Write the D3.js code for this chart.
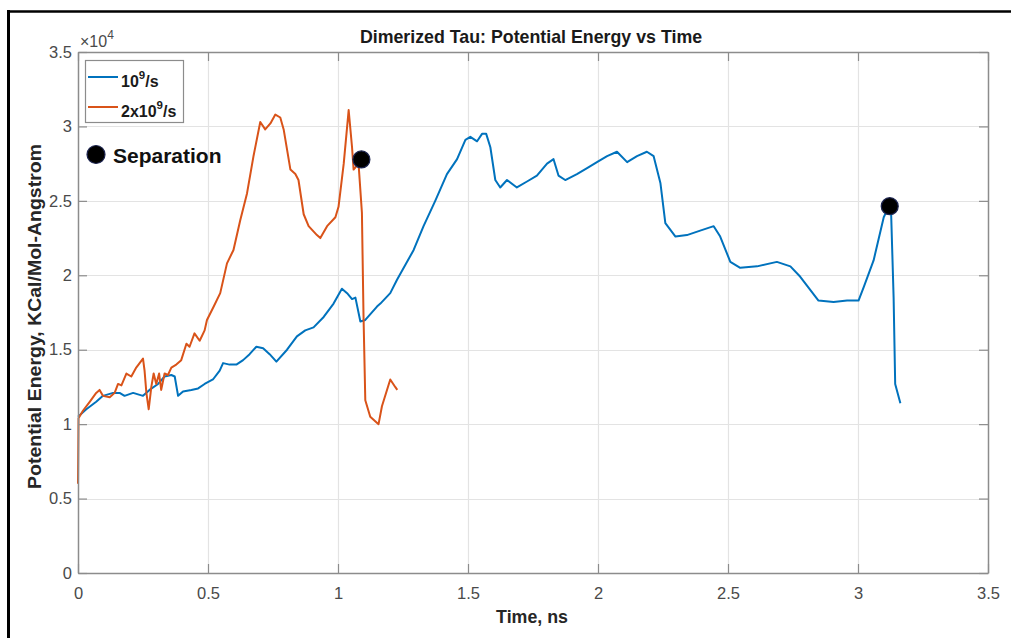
<!DOCTYPE html>
<html>
<head>
<meta charset="utf-8">
<script src="https://cdn.jsdelivr.net/npm/d3@7"></script>
<style>
  html, body { margin: 0; padding: 0; background: #fff; }
  svg { display: block; }
  text { font-family: "Liberation Sans", Arial, Helvetica, sans-serif; }
</style>
</head>
<body>
<svg id="chart" width="1011" height="638"></svg>
<script>
// ---- Data (energy in units of 1e4 KCal/Mol-Angstrom, time in ns) ----
const blueTime = [0,0.032,0.070,0.096,0.135,0.16,0.179,0.212,0.25,0.275,0.308,0.333,0.359,0.372,0.385,0.404,0.436,0.462,0.487,0.519,0.545,0.558,0.583,0.609,0.635,0.66,0.686,0.712,0.737,0.763,0.804,0.842,0.874,0.906,0.945,0.983,1.015,1.035,1.054,1.067,1.086,1.105,1.15,1.163,1.201,1.227,1.291,1.329,1.374,1.419,1.458,1.49,1.509,1.535,1.554,1.57,1.586,1.605,1.624,1.65,1.688,1.727,1.765,1.804,1.829,1.848,1.874,1.919,1.958,1.996,2.035,2.073,2.112,2.15,2.188,2.214,2.24,2.259,2.298,2.342,2.393,2.445,2.47,2.509,2.547,2.612,2.688,2.74,2.778,2.817,2.848,2.906,2.958,3.002,3.022,3.06,3.099,3.118,3.127,3.137,3.143,3.163];
const blueEnergy = [1.05,1.10,1.15,1.19,1.21,1.21,1.19,1.21,1.19,1.23,1.27,1.32,1.33,1.32,1.19,1.22,1.23,1.24,1.27,1.30,1.36,1.41,1.40,1.40,1.43,1.47,1.52,1.51,1.47,1.42,1.50,1.59,1.63,1.65,1.72,1.81,1.91,1.88,1.84,1.85,1.69,1.70,1.79,1.81,1.88,1.97,2.17,2.33,2.50,2.68,2.78,2.91,2.93,2.90,2.95,2.95,2.86,2.64,2.59,2.64,2.59,2.63,2.67,2.75,2.78,2.67,2.64,2.68,2.72,2.76,2.80,2.83,2.76,2.80,2.83,2.80,2.62,2.35,2.26,2.27,2.30,2.33,2.26,2.09,2.05,2.06,2.09,2.06,1.99,1.90,1.83,1.82,1.83,1.83,1.92,2.10,2.39,2.46,2.44,1.85,1.27,1.14];

const orangeTime = [0,0.002,0.019,0.045,0.070,0.083,0.096,0.122,0.141,0.154,0.167,0.186,0.205,0.224,0.237,0.25,0.256,0.263,0.272,0.282,0.291,0.301,0.312,0.32,0.333,0.346,0.359,0.378,0.397,0.417,0.429,0.448,0.468,0.487,0.496,0.522,0.547,0.573,0.598,0.624,0.65,0.675,0.701,0.72,0.74,0.759,0.778,0.791,0.817,0.836,0.848,0.868,0.887,0.919,0.932,0.958,0.99,1.002,1.022,1.041,1.054,1.06,1.079,1.092,1.098,1.105,1.124,1.156,1.169,1.201,1.22,1.228];
const orangeEnergy = [0.60,1.04,1.09,1.15,1.21,1.23,1.19,1.18,1.21,1.27,1.26,1.34,1.32,1.38,1.41,1.44,1.36,1.21,1.10,1.25,1.34,1.27,1.34,1.23,1.34,1.33,1.38,1.40,1.43,1.54,1.52,1.61,1.56,1.63,1.70,1.79,1.88,2.08,2.17,2.37,2.55,2.80,3.03,2.98,3.02,3.08,3.06,2.98,2.71,2.68,2.64,2.41,2.33,2.27,2.25,2.33,2.39,2.46,2.75,3.11,2.86,2.71,2.75,2.42,1.74,1.16,1.05,1.00,1.12,1.30,1.25,1.23];

const separationTime = [1.09, 3.122];
const separationEnergy = [2.778, 2.464];

const xTicks = [0, 0.5, 1, 1.5, 2, 2.5, 3, 3.5];
const yTicks = [0, 0.5, 1, 1.5, 2, 2.5, 3, 3.5];
const seriesNames = ["10|9|/s", "2x10|9|/s"];
const seriesColors = ["#0072BD", "#D95319"];

// ---- Layout ----
const svg = d3.select("#chart");
const L = 78, R = 988, T = 52, B = 573;
const x = d3.scaleLinear().domain([0, 3.5]).range([L, R]);
const y = d3.scaleLinear().domain([0, 3.5]).range([B, T]);

// outer frame (left & top)
svg.append("line").attr("x1", 8.5).attr("x2", 8.5).attr("y1", 10).attr("y2", 638)
  .attr("stroke", "#000").attr("stroke-width", 3);
svg.append("line").attr("x1", 7).attr("x2", 1011).attr("y1", 11.5).attr("y2", 11.5)
  .attr("stroke", "#000").attr("stroke-width", 2.5);

// grid
const grid = svg.append("g");
grid.selectAll(".gx").data(xTicks.slice(1, -1)).enter().append("line")
  .attr("x1", d => Math.round(x(d)) + 0.5).attr("x2", d => Math.round(x(d)) + 0.5)
  .attr("y1", T).attr("y2", B).attr("stroke", "#e3e3e3").attr("stroke-width", 1.2);
grid.selectAll(".gy").data(yTicks.slice(1, -1)).enter().append("line")
  .attr("y1", d => Math.round(y(d)) + 0.5).attr("y2", d => Math.round(y(d)) + 0.5)
  .attr("x1", L).attr("x2", R).attr("stroke", "#e3e3e3").attr("stroke-width", 1.2);

// series
const line = d3.line().x(d => x(d[0])).y(d => y(d[1]));
const blueData = blueTime.map((t, i) => [t, blueEnergy[i]]);
const orangeData = orangeTime.map((t, i) => [t, orangeEnergy[i]]);
svg.append("path").datum(blueData).attr("d", line).attr("fill", "none")
  .attr("stroke", seriesColors[0]).attr("stroke-width", 2).attr("stroke-linejoin", "round");
svg.append("path").datum(orangeData).attr("d", line).attr("fill", "none")
  .attr("stroke", seriesColors[1]).attr("stroke-width", 2).attr("stroke-linejoin", "round");

// axes
const axisColor = "#8c8c8c";
const tickColor = "#4a4a4a";
const xAxisB = d3.axisBottom(x).tickValues(xTicks).tickSizeInner(-9).tickSizeOuter(0).tickPadding(14)
  .tickFormat(d => d3.format("")(d));
const gxb = svg.append("g").attr("transform", `translate(0,${B})`).call(xAxisB);
const xAxisT = d3.axisTop(x).tickValues(xTicks).tickSizeInner(-9).tickSizeOuter(0).tickFormat("");
const gxt = svg.append("g").attr("transform", `translate(0,${T})`).call(xAxisT);
const yAxisL = d3.axisLeft(y).tickValues(yTicks).tickSizeInner(-9).tickSizeOuter(0).tickPadding(6)
  .tickFormat(d => d3.format("")(d));
const gyl = svg.append("g").attr("transform", `translate(${L},0)`).call(yAxisL);
const yAxisR = d3.axisRight(y).tickValues(yTicks).tickSizeInner(-9).tickSizeOuter(0).tickFormat("");
const gyr = svg.append("g").attr("transform", `translate(${R},0)`).call(yAxisR);
[gxb, gxt, gyl, gyr].forEach(g => {
  g.select(".domain").attr("stroke", axisColor).attr("stroke-width", 1.5);
  g.selectAll(".tick line").attr("stroke", axisColor).attr("stroke-width", 1.2);
  g.selectAll(".tick text").attr("fill", tickColor).attr("font-size", 16.5)
    .attr("font-family", "'Liberation Sans', Arial, sans-serif");
});
gxb.selectAll(".tick text").attr("dy", "0.71em");

// exponent label
const expo = svg.append("text").attr("x", 80).attr("y", 47).attr("fill", tickColor).attr("font-size", 16);
expo.append("tspan").text("\u00d710");
expo.append("tspan").attr("dy", -8).attr("font-size", 12).text("4");

// title and axis labels
svg.append("text").attr("x", 531).attr("y", 43).attr("text-anchor", "middle")
  .attr("font-weight", "bold").attr("font-size", 17.8).attr("fill", "#1a1a1a")
  .text("Dimerized Tau: Potential Energy vs Time");
svg.append("text").attr("x", 532).attr("y", 623).attr("text-anchor", "middle")
  .attr("font-weight", "bold").attr("font-size", 17.8).attr("fill", "#262626")
  .text("Time, ns");
svg.append("text").attr("transform", `translate(41,${(T + B) / 2 + 4}) rotate(-90)`)
  .attr("text-anchor", "middle").attr("font-weight", "bold").attr("font-size", 18).attr("fill", "#262626")
  .attr("textLength", 345).attr("lengthAdjust", "spacingAndGlyphs")
  .text("Potential Energy, KCal/Mol-Angstrom");

// legend
const lg = svg.append("g");
lg.append("rect").attr("x", 85.5).attr("y", 60.5).attr("width", 98).attr("height", 62)
  .attr("fill", "#fff").attr("stroke", "#8c8c8c").attr("stroke-width", 1.2);
seriesNames.forEach((name, i) => {
  const yy = 77 + i * 30;
  lg.append("line").attr("x1", 88).attr("x2", 118).attr("y1", yy).attr("y2", yy)
    .attr("stroke", seriesColors[i]).attr("stroke-width", 2);
  const parts = name.split("|");
  const t = lg.append("text").attr("x", 121).attr("y", yy + 10).attr("font-weight", "bold")
    .attr("font-size", 16).attr("fill", "#1a1a1a");
  t.append("tspan").text(parts[0]);
  t.append("tspan").attr("dy", -8).attr("font-size", 11.5).text(parts[1]);
  t.append("tspan").attr("dy", 8).text(parts[2]);
});

// separation markers
svg.selectAll(".sep").data(separationTime.map((t, i) => [t, separationEnergy[i]])).enter()
  .append("circle").attr("cx", d => x(d[0])).attr("cy", d => y(d[1])).attr("r", 8.5)
  .attr("fill", "#000").attr("stroke", "#1c2450").attr("stroke-width", 1.2);

// annotation
svg.append("circle").attr("cx", 96).attr("cy", 154.5).attr("r", 9)
  .attr("fill", "#000").attr("stroke", "#1c2450").attr("stroke-width", 1.2);
svg.append("text").attr("x", 113).attr("y", 163).attr("font-weight", "bold")
  .attr("font-size", 21).attr("fill", "#111").text("Separation");
</script>
</body>
</html>
